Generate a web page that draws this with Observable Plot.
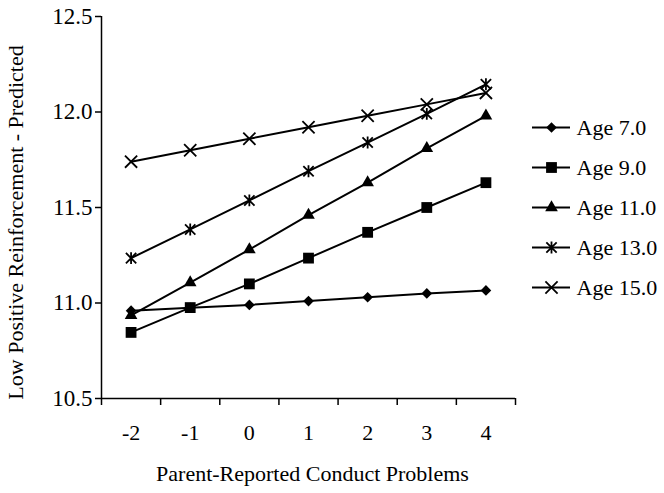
<!DOCTYPE html>
<html>
<head>
<meta charset="utf-8">
<script src="https://cdn.jsdelivr.net/npm/d3@7"></script>
<script src="https://cdn.jsdelivr.net/npm/@observablehq/plot@0.6"></script>
<style>
  html, body { margin: 0; padding: 0; background: white; }
  #wrap { position: relative; width: 664px; height: 493px; }
  #legend { position: absolute; left: 520px; top: 0; }
</style>
</head>
<body>
<div id="wrap"><div id="chart"></div><div id="legend"></div></div>
<script>
// ---- data ----
const conduct = [-2, -1, 0, 1, 2, 3, 4];
const xTickLabels = ["-2", "-1", "0", "1", "2", "3", "4"];
const yTicks = [10.5, 11.0, 11.5, 12.0, 12.5];
const seriesNames = ["Age 7.0", "Age 9.0", "Age 11.0", "Age 13.0", "Age 15.0"];
const age7  = [10.96, 10.975, 10.99, 11.01, 11.03, 11.05, 11.066];
const age9  = [10.846, 10.976, 11.10, 11.235, 11.37, 11.50, 11.63];
const age11 = [10.935, 11.107, 11.28, 11.46, 11.63, 11.81, 11.98];
const age13 = [11.235, 11.385, 11.537, 11.69, 11.84, 11.99, 12.145];
const age15 = [11.74, 11.80, 11.86, 11.92, 11.98, 12.04, 12.10];
const xTitle = "Parent-Reported Conduct Problems";
const yTitle = "Low Positive Reinforcement - Predicted";

// ---- styles ----
// Excel-style asterisk: an X with a vertical bar
const starX = {
  draw(context, size) {
    const h = Math.sqrt(size) * 0.56;
    context.moveTo(-h, -h); context.lineTo(h, h);
    context.moveTo(-h, h); context.lineTo(h, -h);
    context.moveTo(0, -h * 1.15); context.lineTo(0, h * 1.15);
  }
};
const symbolStyle = {
  "Age 7.0":  {symbol: "diamond2", fill: "black", stroke: "none", r: 4.8},
  "Age 9.0":  {symbol: "square", fill: "black", stroke: "none", r: 6.1},
  "Age 11.0": {symbol: "triangle", fill: "black", stroke: "none", r: 4.7},
  "Age 13.0": {symbol: starX, fill: "none", stroke: "black", r: 5.2, strokeWidth: 1.8},
  "Age 15.0": {symbol: "times", fill: "none", stroke: "black", r: 5.6, strokeWidth: 1.8}
};

const seriesValues = [age7, age9, age11, age13, age15];
const rows = [];
seriesNames.forEach((s, k) => conduct.forEach((c, i) => rows.push({series: s, x: c, y: seriesValues[k][i]})));

// category boundaries (Excel-style ticks between categories)
const bounds = conduct.map(c => c - 0.5).concat([conduct[conduct.length - 1] + 0.5]);

const font = "'Liberation Serif', 'Times New Roman', serif";

const dotMarks = seriesNames.map(s => Plot.dot(rows.filter(d => d.series === s), {
  x: "x", y: "y", ...symbolStyle[s]
}));

const chart = Plot.plot({
  width: 664, height: 493,
  marginLeft: 101, marginRight: 149, marginTop: 16, marginBottom: 95,
  style: {fontFamily: font, fontSize: "22px", background: "white", color: "black"},
  x: {domain: [bounds[0], bounds[bounds.length - 1]]},
  y: {domain: [yTicks[0], yTicks[yTicks.length - 1]]},
  marks: [
    Plot.axisY({ticks: yTicks, tickFormat: d => d.toFixed(1), tickSize: 6, tickPadding: 3, label: null, strokeWidth: 1.5, fontSize: 23}),
    Plot.axisX({ticks: bounds, tickSize: 7, tickFormat: () => "", label: null, strokeWidth: 1.5}),
    Plot.axisX({ticks: conduct, tickSize: 0, tickPadding: 26, tickFormat: d => xTickLabels[conduct.indexOf(d)], label: null, fontSize: 22}),
    Plot.ruleX([bounds[0]], {strokeWidth: 1.5}),
    Plot.ruleY([yTicks[0]], {strokeWidth: 1.5}),
    Plot.line(rows, {x: "x", y: "y", z: "series", stroke: "black", strokeWidth: 2}),
    ...dotMarks,
    Plot.text([xTitle], {text: d => d, frameAnchor: "bottom", dx: 4, dy: 75, textAnchor: "middle", lineAnchor: "middle", fontSize: 22}),
    Plot.text([yTitle], {text: d => d, frameAnchor: "left", rotate: -90, dx: -86, dy: 15, textAnchor: "middle", lineAnchor: "middle", fontSize: 22})
  ]
});
document.getElementById("chart").appendChild(chart);

// ---- legend ----
const legendDots = seriesNames.map(s => Plot.dot([s], {y: d => d, frameAnchor: "middle", ...symbolStyle[s]}));
const legend = Plot.plot({
  width: 144, height: 493,
  marginLeft: 12, marginRight: 94, marginTop: 0, marginBottom: 0,
  style: {fontFamily: font, fontSize: "22px", background: "transparent", color: "black"},
  x: {axis: null},
  y: {type: "point", domain: seriesNames, range: [106, 307], axis: null},
  marks: [
    Plot.ruleY(seriesNames, {y: d => d, stroke: "black", strokeWidth: 2}),
    ...legendDots,
    Plot.text(seriesNames, {y: d => d, text: d => d, frameAnchor: "right", dx: 6, textAnchor: "start", lineAnchor: "middle", fontSize: 22})
  ]
});
document.getElementById("legend").appendChild(legend);
</script>
</body>
</html>
